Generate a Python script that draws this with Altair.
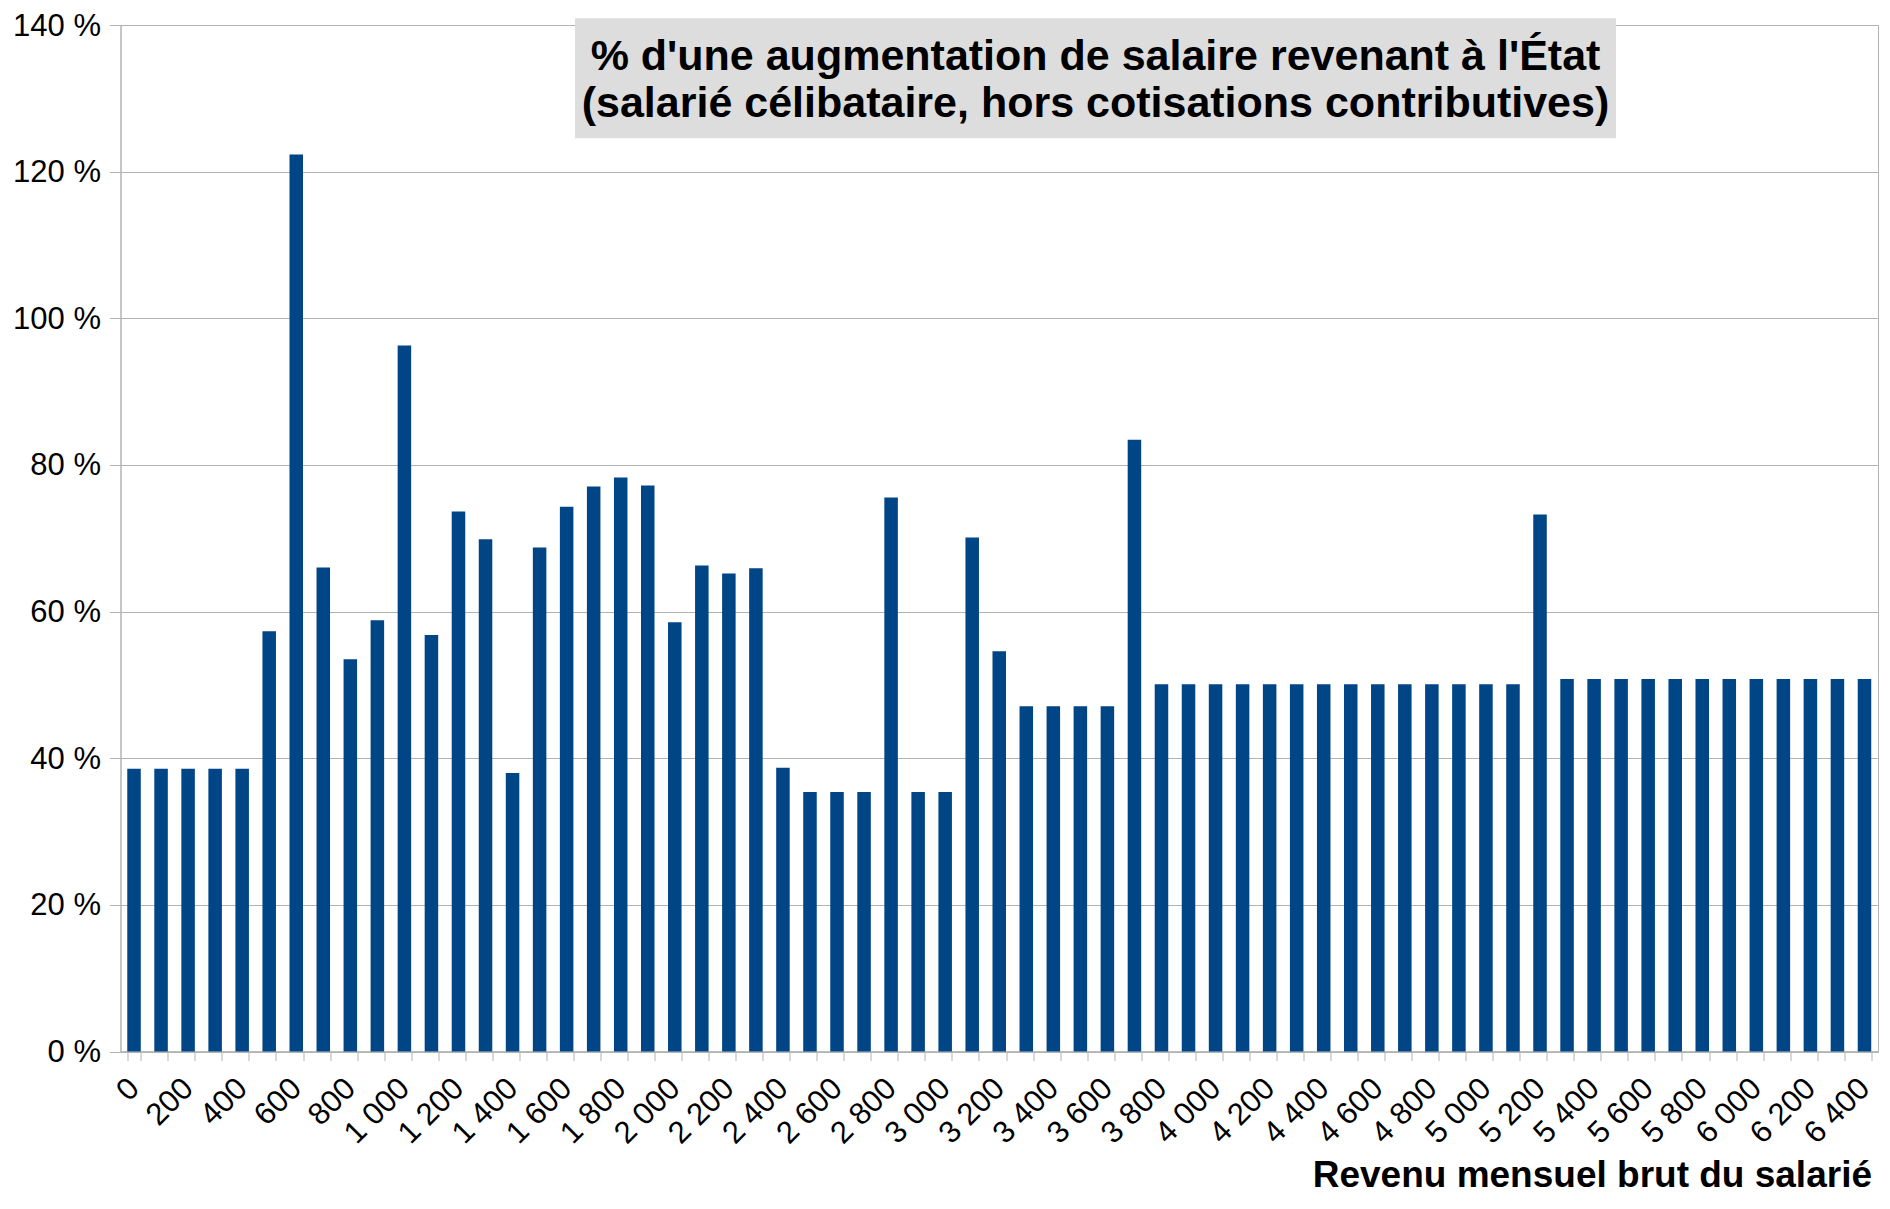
import altair as alt
import pandas as pd

INCOMES = [0, 100, 200, 300, 400, 500, 600, 700, 800, 900,
           1000, 1100, 1200, 1300, 1400, 1500, 1600, 1700, 1800, 1900,
           2000, 2100, 2200, 2300, 2400, 2500, 2600, 2700, 2800, 2900,
           3000, 3100, 3200, 3300, 3400, 3500, 3600, 3700, 3800, 3900,
           4000, 4100, 4200, 4300, 4400, 4500, 4600, 4700, 4800, 4900,
           5000, 5100, 5200, 5300, 5400, 5500, 5600, 5700, 5800, 5900,
           6000, 6100, 6200, 6300, 6400]

SHARE = [38.55, 38.55, 38.55, 38.55, 38.55, 57.3, 122.35, 66.0, 53.5, 58.8,
         96.3, 56.8, 73.65, 69.85, 38.0, 68.75, 74.3, 77.05, 78.3, 77.2,
         58.55, 66.3, 65.2, 65.9, 38.7, 35.4, 35.4, 35.4, 75.55, 35.4,
         35.4, 70.1, 54.6, 47.1, 47.1, 47.1, 47.1, 83.45, 50.1, 50.1,
         50.1, 50.1, 50.1, 50.1, 50.1, 50.1, 50.1, 50.1, 50.1, 50.1,
         50.1, 50.1, 73.25, 50.8, 50.8, 50.8, 50.8, 50.8, 50.8, 50.8,
         50.8, 50.8, 50.8, 50.8, 50.8]

Y_TICKS = [0, 20, 40, 60, 80, 100, 120, 140]

TITLE_LINES = ["% d'une augmentation de salaire revenant à l'État",
               "(salarié célibataire, hors cotisations contributives)"]
X_TITLE = "Revenu mensuel brut du salarié"

FONT = "Liberation Sans"
GRAY = "#b3b3b3"
W, H = 1757.5, 1026.5

df = pd.DataFrame({"income": INCOMES, "share": SHARE})

bars = alt.Chart(df).mark_bar(color="#004586").encode(
    x=alt.X("income:O", sort=None,
            scale=alt.Scale(paddingInner=0.5, paddingOuter=0.25),
            axis=alt.Axis(
                title=X_TITLE,
                titleFont=FONT, titleFontSize=37, titleFontWeight="bold",
                titleColor="black", titleAlign="right", titleAnchor="end",
                titleBaseline="alphabetic", titleX=W - 6.5, titleY=134.5,
                labelExpr="datum.value % 200 == 0 ? replace(format(datum.value, ','), ',', '\u00a0') : ''",
                labelAngle=-45, labelAlign="right", labelBaseline="middle",
                labelFont=FONT, labelFontSize=31, labelColor="black",
                labelPadding=23, labelOverlap=False, labelFlush=False,
                tickBand="extent", tickSize=9, tickColor=GRAY, tickWidth=1,
                domainColor=GRAY, domainWidth=1.6, grid=False)),
    y=alt.Y("share:Q",
            scale=alt.Scale(domain=[0, 140], nice=False, zero=True),
            axis=alt.Axis(
                title=None, values=Y_TICKS,
                labelExpr="datum.value + '\u00a0%'",
                labelFont=FONT, labelFontSize=31, labelColor="black",
                labelPadding=9, labelOffset=1, tickSize=11, tickColor=GRAY,
                tickWidth=1, domainColor=GRAY, domainWidth=1,
                grid=True, gridColor=GRAY, gridWidth=1)),
)

box = alt.Chart(pd.DataFrame({"t": [TITLE_LINES[0]]})).mark_rect(
    color="#dddddd").encode(
    x=alt.value(454.5), x2=alt.value(1495.5),
    y=alt.value(-6.7), y2=alt.value(113.3))

line1 = alt.Chart(pd.DataFrame({"t": [TITLE_LINES[0]]})).mark_text(
    font=FONT, fontSize=43, fontWeight="bold", color="black",
    align="center", baseline="alphabetic").encode(
    text="t:N", x=alt.value(975), y=alt.value(45))

line2 = alt.Chart(pd.DataFrame({"t": [TITLE_LINES[1]]})).mark_text(
    font=FONT, fontSize=43, fontWeight="bold", color="black",
    align="center", baseline="alphabetic").encode(
    text="t:N", x=alt.value(975), y=alt.value(91.7))

chart = alt.layer(bars, box, line1, line2).properties(
    width=W, height=H,
    autosize=alt.AutoSizeParams(type="none"),
    padding={"left": 112.5, "top": 17, "right": 2, "bottom": 145},
    background="white",
).configure_view(stroke=GRAY, strokeWidth=1)

chart.save("out.html", embed_options={"renderer": "svg", "actions": False})
